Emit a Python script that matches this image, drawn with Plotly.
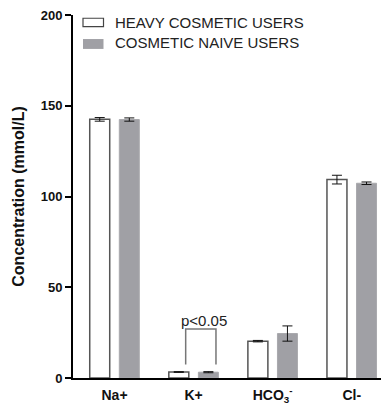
import plotly.graph_objects as go

categories = ["Na+", "K+", "HCO<sub>3</sub><sup>-</sup>", "Cl-"]
heavy_values = [142.5, 3.3, 20.3, 109.3]
heavy_errors = [1.0, 0.2, 0.4, 2.4]
naive_values = [142.4, 3.2, 24.5, 107.3]
naive_errors = [0.9, 0.3, 4.2, 0.7]
series_names = ["HEAVY COSMETIC USERS", "COSMETIC NAIVE USERS"]
y_ticks = [0, 50, 100, 150, 200]

fig = go.Figure()
fig.add_trace(go.Bar(
    x=categories, y=heavy_values, name=series_names[0],
    marker=dict(color="white", line=dict(color="#555555", width=1.5)),
    error_y=dict(type="data", array=heavy_errors, color="#111111", thickness=1, width=5),
    showlegend=False,
))
fig.add_trace(go.Bar(
    x=categories, y=naive_values, name=series_names[1],
    marker=dict(color="#a0a0a5", line=dict(color="#a9a9ad", width=1)),
    error_y=dict(type="data", array=naive_errors, color="#111111", thickness=1, width=5),
    showlegend=False,
))

# significance bracket between K+ bars
fig.add_shape(type="path", xref="x", yref="y",
              path="M 0.9,7.5 L 0.9,27.0 L 1.283,27.0 L 1.283,7.5",
              line=dict(color="#777777", width=1.5))
fig.add_annotation(x=1.132, y=26.0, xref="x", yref="y", text="p&lt;0.05",
                   showarrow=False, yanchor="bottom",
                   font=dict(family="Arial", size=15, color="#222222"))

# legend drawn manually
def px_x(px):
    return (px - 73) / 308.0

def px_y(py):
    return (382 - py) / 367.0

fig.add_shape(type="rect", xref="paper", yref="paper",
              x0=px_x(83), x1=px_x(103.5), y0=px_y(26.7), y1=px_y(18.3),
              line=dict(color="#444444", width=1.2), fillcolor="white")
fig.add_shape(type="rect", xref="paper", yref="paper",
              x0=px_x(83), x1=px_x(103.5), y0=px_y(49.3), y1=px_y(39.3),
              line=dict(width=0), fillcolor="#a0a0a5")
for name, py in zip(series_names, [22.7, 43.3]):
    fig.add_annotation(x=px_x(113), y=px_y(py), xref="paper", yref="paper",
                       text=name, showarrow=False, xanchor="left", yanchor="middle",
                       font=dict(family="Arial", size=15, color="#222222"))

fig.update_layout(
    width=381, height=405,
    margin=dict(l=73, r=0, t=15, b=23),
    paper_bgcolor="white", plot_bgcolor="white",
    barmode="group", bargap=0.252, bargroupgap=0.324,
    showlegend=False,
    font=dict(family="Arial", color="#111111"),
)
fig.update_xaxes(
    range=[-0.525, 3.37], showgrid=False, zeroline=False,
    showline=True, linecolor="#000000", linewidth=2,
    ticks="outside", ticklen=3, tickcolor="rgba(0,0,0,0)",
    tickfont=dict(family="Arial", size=14, color="#111111", weight="bold"),
)
fig.update_yaxes(
    range=[0, 200], tickvals=y_ticks, showgrid=False, zeroline=False,
    showline=True, linecolor="#000000", linewidth=2,
    ticks="outside", ticklen=6, tickwidth=2, tickcolor="#000000",
    tickfont=dict(family="Arial", size=13, color="#111111", weight="bold"),
    title=dict(text="Concentration (mmol/L)", standoff=12,
               font=dict(family="Arial", size=16, color="#111111", weight="bold")),
)

fig.write_html("out.html", config={"displayModeBar": False},
               post_script="document.body.style.margin='0px';document.body.style.overflow='hidden';")
